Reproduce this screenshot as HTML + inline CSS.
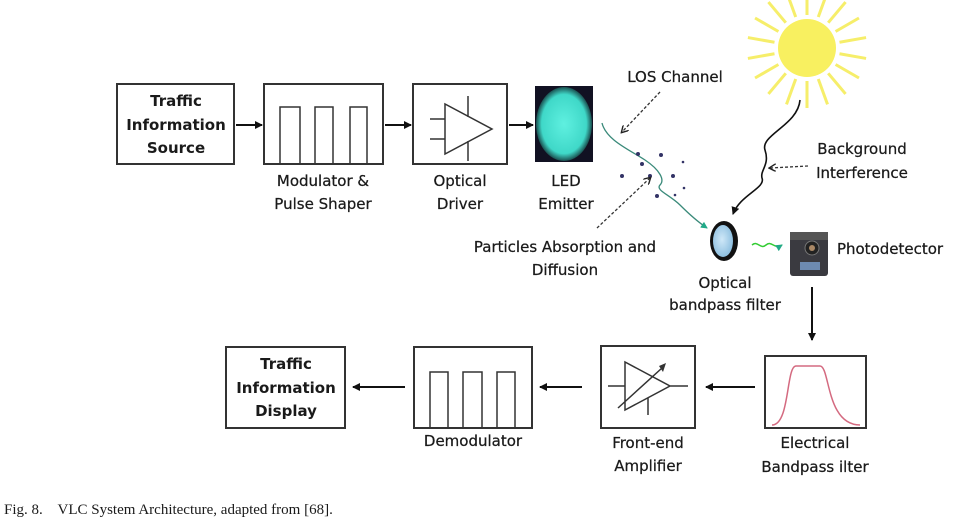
<!DOCTYPE html>
<html><head><meta charset="utf-8"><style>
html,body{margin:0;padding:0;background:#fff;}
svg{display:block;}
text{font-family:"DejaVu Sans","Liberation Sans",sans-serif;fill:#1a1a1a;}
</style></head><body>
<svg width="958" height="522" viewBox="0 0 958 522" xmlns="http://www.w3.org/2000/svg">
<defs>
<marker id="ah" markerWidth="8" markerHeight="8" refX="7" refY="4" orient="auto" markerUnits="userSpaceOnUse"><path d="M0,0 L8,4 L0,8 Z" fill="#111"/></marker>
<marker id="ahs" markerWidth="8" markerHeight="8" refX="6" refY="4" orient="auto" markerUnits="userSpaceOnUse"><path d="M0,0 L7,4 L0,8" fill="none" stroke="#222" stroke-width="1.4"/></marker>
<marker id="ahg" markerWidth="7" markerHeight="7" refX="6" refY="3.5" orient="auto" markerUnits="userSpaceOnUse"><path d="M0,0 L7,3.5 L0,7 Z" fill="#2a8"/></marker>
<radialGradient id="led" cx="50%" cy="50%" r="50%"><stop offset="0" stop-color="#5ff0e0"/><stop offset="0.8" stop-color="#3fd8c8"/><stop offset="1" stop-color="#1a5050"/></radialGradient>
<radialGradient id="flt" cx="45%" cy="45%" r="55%"><stop offset="0" stop-color="#cfe8f8"/><stop offset="1" stop-color="#8fc0e0"/></radialGradient>
</defs>
<g fill="none" stroke="#333" stroke-width="2">
<rect x="117" y="84" width="117" height="80"/>
<rect x="264" y="84" width="119" height="80"/>
<rect x="413" y="84" width="94" height="80"/>
<rect x="226" y="347" width="119" height="81"/>
<rect x="414" y="347" width="118" height="81"/>
<rect x="601" y="346" width="94" height="82"/>
<rect x="765" y="356" width="101" height="72"/>
</g>
<g fill="none" stroke="#333" stroke-width="1.5">
<path d="M280,164 V107 H300 V164 M315,164 V107 H333 V164 M350,164 V107 H367 V164"/>
<path d="M430,428 V372 H448 V428 M463,428 V372 H482 V428 M497,428 V372 H515 V428"/>
<path d="M445,104 V154 L492,129 Z M430,119 H445 M430,139 H445 M468,96 V117 M468,141 V161"/>
<path d="M625,362 V410 L670,386 Z M608,386 H625 M670,386 H688 M648,398 V415 M618,408 L662,368"/>
</g>
<path d="M659,366 L666,363 L663,372 Z" fill="#333"/>
<path d="M772,425 C790,425 786,366 796,366 L820,366 C830,366 826,425 860,425" fill="none" stroke="#d46a80" stroke-width="1.5"/>
<g stroke="#111" stroke-width="2" fill="none">
<line x1="236" y1="125" x2="262" y2="125" marker-end="url(#ah)"/>
<line x1="385" y1="125" x2="411" y2="125" marker-end="url(#ah)"/>
<line x1="509" y1="125" x2="533" y2="125" marker-end="url(#ah)"/>
<line x1="812" y1="287" x2="812" y2="340" marker-end="url(#ah)"/>
<line x1="755" y1="387" x2="706" y2="387" marker-end="url(#ah)"/>
<line x1="582" y1="387" x2="540" y2="387" marker-end="url(#ah)"/>
<line x1="405" y1="387" x2="353" y2="387" marker-end="url(#ah)"/>
</g>
<rect x="535" y="86" width="58" height="76" fill="#112"/>
<ellipse cx="564" cy="124" rx="28" ry="37" fill="url(#led)"/>
<!-- sun -->
<g stroke="#f6ee6a" stroke-width="3">
<g transform="translate(807,48)">
<line x1="0" y1="-33" x2="0" y2="-60" transform="rotate(0)"/><line x1="0" y1="-33" x2="0" y2="-60" transform="rotate(20)"/><line x1="0" y1="-33" x2="0" y2="-60" transform="rotate(40)"/><line x1="0" y1="-33" x2="0" y2="-60" transform="rotate(60)"/><line x1="0" y1="-33" x2="0" y2="-60" transform="rotate(80)"/><line x1="0" y1="-33" x2="0" y2="-60" transform="rotate(100)"/><line x1="0" y1="-33" x2="0" y2="-60" transform="rotate(120)"/><line x1="0" y1="-33" x2="0" y2="-60" transform="rotate(140)"/><line x1="0" y1="-33" x2="0" y2="-60" transform="rotate(160)"/><line x1="0" y1="-33" x2="0" y2="-60" transform="rotate(180)"/><line x1="0" y1="-33" x2="0" y2="-60" transform="rotate(200)"/><line x1="0" y1="-33" x2="0" y2="-60" transform="rotate(220)"/><line x1="0" y1="-33" x2="0" y2="-60" transform="rotate(240)"/><line x1="0" y1="-33" x2="0" y2="-60" transform="rotate(260)"/><line x1="0" y1="-33" x2="0" y2="-60" transform="rotate(280)"/><line x1="0" y1="-33" x2="0" y2="-60" transform="rotate(300)"/><line x1="0" y1="-33" x2="0" y2="-60" transform="rotate(320)"/><line x1="0" y1="-33" x2="0" y2="-60" transform="rotate(340)"/>
</g></g>
<circle cx="807" cy="48" r="29" fill="#f8f060"/>
<path d="M800,100 C798,125 760,135 765,150 C770,165 760,170 762,178 C766,188 740,195 733,214" fill="none" stroke="#111" stroke-width="1.6" marker-end="url(#ah)"/>
<path d="M602,123 C606,140 630,150 645,160 C660,170 665,180 660,185 C655,190 670,195 680,205 C690,215 698,222 707,228" fill="none" stroke="#3a8a7a" stroke-width="1.3" marker-end="url(#ahg)"/>
<path d="M752,245 C758,240 760,250 766,245 C772,240 774,250 782,245" fill="none" stroke="#3c3" stroke-width="1.5" marker-end="url(#ahg)"/>
<g fill="#336">
<circle cx="638" cy="154" r="2"/><circle cx="661" cy="155" r="2"/><circle cx="642" cy="164" r="2"/><circle cx="622" cy="176" r="2"/><circle cx="650" cy="176" r="2"/><circle cx="673" cy="176" r="2"/><circle cx="657" cy="196" r="2"/><circle cx="683" cy="162" r="1.3"/><circle cx="684" cy="188" r="1.3"/><circle cx="675" cy="195" r="1.3"/>
</g>
<g fill="none" stroke="#333" stroke-width="1.3" stroke-dasharray="3,2">
<path d="M660,92 L622,132" marker-end="url(#ahs)"/>
<path d="M808,166 L770,168" marker-end="url(#ahs)"/>
<path d="M597,228 L650,178" marker-end="url(#ahs)"/>
</g>
<ellipse cx="724" cy="241" rx="14" ry="20" fill="#111"/>
<ellipse cx="723" cy="241" rx="10" ry="16" fill="url(#flt)"/>
<rect x="790" y="232" width="38" height="44" rx="3" fill="#3a3a40"/>
<rect x="790" y="232" width="38" height="8" fill="#555"/>
<circle cx="812" cy="248" r="7" fill="#222" stroke="#777"/>
<circle cx="812" cy="248" r="3" fill="#a86"/>
<rect x="800" y="262" width="20" height="8" fill="#6d8ab0"/>
<g font-size="15" text-anchor="middle" font-weight="bold">
<text x="176" y="106">Traffic</text><text x="176" y="130">Information</text><text x="176" y="153">Source</text>
<text x="286" y="369">Traffic</text><text x="286" y="393">Information</text><text x="286" y="416">Display</text>
</g>
<g font-size="15" text-anchor="middle" stroke="#1a1a1a" stroke-width="0.25">
<text x="323" y="186">Modulator &amp;</text><text x="323" y="209">Pulse Shaper</text>
<text x="460" y="186">Optical</text><text x="460" y="209">Driver</text>
<text x="566" y="186">LED</text><text x="566" y="209">Emitter</text>
<text x="675" y="82">LOS Channel</text>
<text x="862" y="154">Background</text><text x="862" y="178">Interference</text>
<text x="565" y="252">Particles Absorption and</text><text x="565" y="275">Diffusion</text>
<text x="725" y="288">Optical</text><text x="725" y="310">bandpass filter</text>
<text x="890" y="254">Photodetector</text>
<text x="473" y="446">Demodulator</text>
<text x="648" y="448">Front-end</text><text x="648" y="471">Amplifier</text>
<text x="815" y="448">Electrical</text><text x="815" y="472">Bandpass ilter</text>
</g>
<text x="4" y="514" font-size="15" style="font-family:'Liberation Serif',serif" fill="#333">Fig. 8.&#160;&#160;&#160; VLC System Architecture, adapted from [68].</text>
</svg>
</body></html>
